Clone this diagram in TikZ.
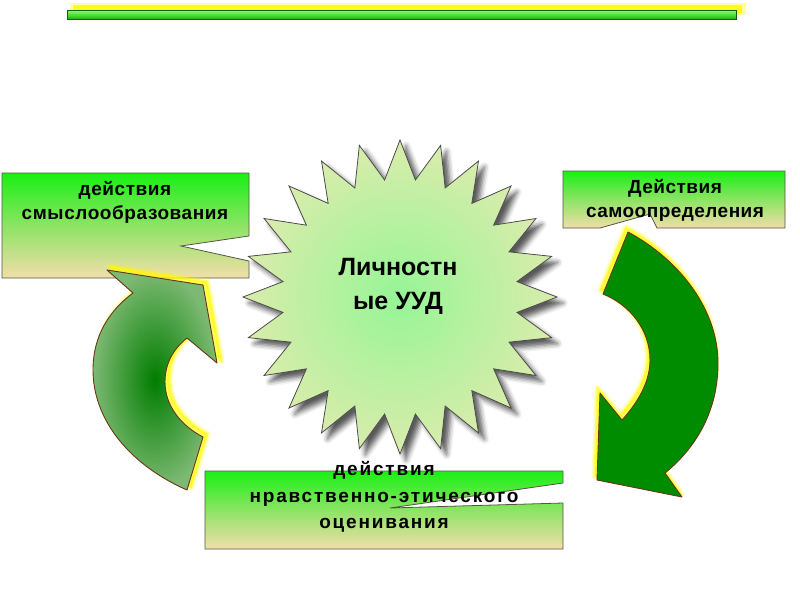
\documentclass[tikz,border=0pt]{standalone}
\usepackage{fontspec}
\setmainfont{Liberation Sans}
\newfontfamily\lsA[LetterSpace=3]{Liberation Sans}
\newfontfamily\lsB[LetterSpace=2.5]{Liberation Sans}
\newfontfamily\lsC[LetterSpace=9.5]{Liberation Sans}
\usetikzlibrary{shadows.blur}
\definecolor{boxtop}{RGB}{25,240,20}
\definecolor{boxmid}{RGB}{140,228,100}
\definecolor{boxbot}{RGB}{242,222,170}
\definecolor{boxedge}{RGB}{85,85,70}
\definecolor{starin}{RGB}{150,245,150}
\definecolor{starout}{RGB}{218,236,172}
\definecolor{arrdark}{RGB}{0,125,0}
\definecolor{arrlight}{RGB}{125,185,115}
\definecolor{arrfill}{RGB}{0,140,0}
\definecolor{arredge}{RGB}{105,55,20}
\definecolor{glowc}{RGB}{255,250,0}
\definecolor{bartop}{RGB}{170,235,130}
\definecolor{barmid}{RGB}{70,230,50}
\definecolor{barbot}{RGB}{40,170,30}
\tikzset{
  callout/.style={draw=boxedge, line width=0.8pt, top color=boxtop, bottom color=boxbot, middle color=boxmid},
  lbl/.style={align=center, text=black, inner sep=0pt},
  glowfill/.style={fill=glowc, draw=glowc, line width=3pt, opacity=0.55},
  glowhalo/.style={draw=glowc, line width=7pt, opacity=0.25, line join=round},
  arrowline/.style={draw=arredge, line width=0.9pt, line join=round}
}
\def\leftarr{(187,490) .. controls (130,465) and (93,420) .. (93,370) .. controls (93,335) and (110,310) .. (133,293) -- (107,270) -- (203,285) -- (217,363) -- (187,338) .. controls (172,350) and (165,365) .. (165,382) .. controls (165,405) and (180,425) .. (203,437) -- cycle}
\def\rightarr{(628,232) .. controls (680,260) and (718,310) .. (718,363) .. controls (718,410) and (697,447) .. (665,473) -- (682,497) -- (597,480) -- (600,393) -- (622,420) .. controls (640,400) and (650,380) .. (650,360) .. controls (650,330) and (630,305) .. (603,294) -- cycle}
\begin{document}
\begin{tikzpicture}[x=1pt,y=-1pt]
\useasboundingbox (0,0) rectangle (800,600);
% top bar
\fill[glowc, opacity=0.35] (70,3) rectangle (746,15);
\fill[glowc, opacity=0.8] (73,5) rectangle (742,13);
\path[draw=black!60!green, line width=0.8pt, top color=bartop, bottom color=barbot, middle color=barmid] (67,10) rectangle (736,19);
% star
\begin{scope}[shift={(400,297)}]
\path[blur shadow={shadow xshift=6pt, shadow yshift=-6pt, shadow blur radius=5pt, shadow opacity=65}, draw=black!70, line width=0.8pt, inner color=starin, outer color=starout]
  (90:157) \foreach \i in {0,...,23} { -- ({90+15*\i}:157) -- ({97.5+15*\i}:118) } -- cycle;
\end{scope}
\node[font=\bfseries\fontsize{25}{34}\selectfont, align=center, inner sep=0pt] (star) at (398,286) {Личностн\\ые УУД};
% callout boxes
\path[callout] (2,173) -- (249,173) -- (249,236) -- (181,246) -- (249,261) -- (249,278) -- (2,278) -- cycle;
\node[lbl, font=\lsA\bfseries\fontsize{19}{24}\selectfont] (sense) at (125,202) {действия\\смыслообразования};
\path[callout] (563,171) -- (785,171) -- (785,228) -- (657,228) -- (650,214) -- (600,228) -- (563,228) -- cycle;
\node[lbl, font=\lsB\bfseries\fontsize{19}{24}\selectfont] (self) at (675,200) {Действия\\самоопределения};
\path[callout] (205,471) -- (563,471) -- (563,483) -- (390,508) -- (563,503) -- (563,549) -- (205,549) -- cycle;
\node[lbl, font=\lsC\bfseries\fontsize{19}{26.5}\selectfont] (moral) at (384,497) {действия\\нравственно-этического\\оценивания};
% left arrow
\begin{scope}[shift={(4,-3)}]
\path[glowhalo] \leftarr;
\path[glowfill] \leftarr;
\end{scope}
\path[arrowline, inner color=arrdark, outer color=arrlight] \leftarr;
% right arrow
\begin{scope}[shift={(-2,-4)}]
\path[glowhalo] \rightarr;
\path[glowfill] \rightarr;
\end{scope}
\path[arrowline, fill=arrfill] \rightarr;
\end{tikzpicture}
\end{document}
